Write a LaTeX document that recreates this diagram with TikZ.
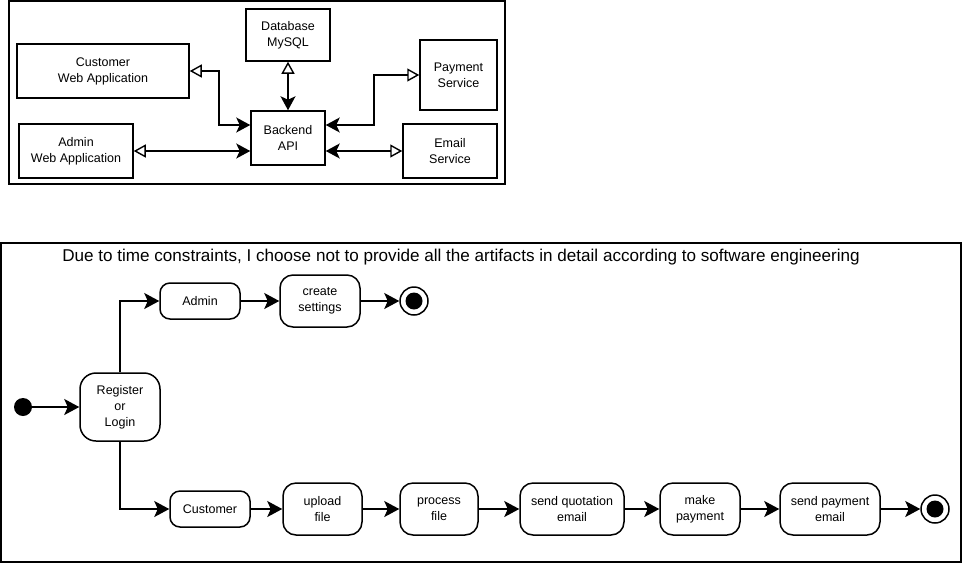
\documentclass[tikz,border=0pt]{standalone}
\usepackage{fontspec}
\setmainfont{Liberation Sans}
\usetikzlibrary{arrows.meta}
\begin{document}
\begin{tikzpicture}[x=1pt,y=-1pt,
  every node/.style={font=\fontsize{12.5}{16}\selectfont, align=center, inner sep=0pt},
  comp/.style={draw, line width=1.5pt, fill=white},
  act/.style={draw, line width=1.5pt, rounded corners=13pt, fill=white},
  actsm/.style={draw, line width=1.5pt, rounded corners=10pt, fill=white},
  frame/.style={draw, line width=2pt},
  link/.style={line width=1.6pt, {Triangle[open,length=12pt,width=13pt,line width=1.4pt]}-{Stealth[length=14pt,width=15pt,inset=3.5pt]}},
  flow/.style={line width=1.6pt, -{Stealth[length=15pt,width=16pt,inset=3.5pt]}},
  startdot/.style={circle, fill=black, minimum size=18pt},
  enddot/.style={circle, draw, line width=1.5pt, minimum size=28pt, fill=white,
    path picture={\fill[black] (path picture bounding box.center) circle (8.5pt);}}
]
\useasboundingbox (0,0) rectangle (963,566);
\fill[white] (0,0) rectangle (963,566);
% top frame
\draw[frame] (9,1) rectangle (505,184);
\node[comp, minimum width=172pt, minimum height=54pt] (cust) at (103,71) {Customer\\Web Application};
\node[comp, minimum width=114pt, minimum height=54pt] (adm) at (76,151) {Admin\\Web Application};
\node[comp, minimum width=84pt, minimum height=52pt] (db) at (288,35) {Database\\MySQL};
\node[comp, minimum width=74pt, minimum height=54pt] (api) at (288,138) {Backend\\API};
\node[comp, minimum width=77pt, minimum height=70pt] (pay) at (458.5,75) {Payment\\Service};
\node[comp, minimum width=94pt, minimum height=54pt] (email) at (450,151) {Email\\Service};
\draw[link] (cust.east) -| ([xshift=-31pt,yshift=13pt]api.west) -- ([yshift=13pt]api.west);
\draw[link] (adm.east) -- (adm.east -| api.west);
\draw[link] (db.south) -- (api.north);
\draw[link] (pay.west) -| ([xshift=48pt,yshift=13pt]api.east) -- ([yshift=13pt]api.east);
\draw[link] (email.west) -- (email.west -| api.east);
% bottom frame
\draw[frame] (1,243) rectangle (961,562);
\node[font=\fontsize{17.1}{19}\selectfont] (title) at (461,257) {Due to time constraints, I choose not to provide all the artifacts in detail according to software engineering};
\node[startdot] (start) at (23,407) {};
\node[act, rounded corners=16pt, minimum width=80pt, minimum height=68pt] (reg) at (120,407) {Register\\or\\Login};
\node[actsm, minimum width=80pt, minimum height=36pt] (admin) at (200,301) {Admin};
\node[act, minimum width=80pt, minimum height=52pt] (create) at (320,301) {create\\settings};
\node[enddot] (end1) at (414,301) {};
\node[actsm, minimum width=80pt, minimum height=36pt] (custa) at (210,509) {Customer};
\node[act, minimum width=79pt, minimum height=52pt] (upload) at (322.5,509) {upload\\file};
\node[act, minimum width=78pt, minimum height=52pt] (process) at (439,509) {process\\file};
\node[act, minimum width=104pt, minimum height=52pt] (sendq) at (572,509) {send quotation\\email};
\node[act, minimum width=80pt, minimum height=52pt] (make) at (700,509) {make\\payment};
\node[act, minimum width=100pt, minimum height=52pt] (sendp) at (830,509) {send payment\\email};
\node[enddot] (end2) at (935,509) {};
\draw[flow] (start) -- (reg);
\draw[flow] (reg.north) |- (admin.west);
\draw[flow] (reg.south) |- (custa.west);
\draw[flow] (admin) -- (create);
\draw[flow] (create) -- (end1);
\draw[flow] (custa) -- (upload);
\draw[flow] (upload) -- (process);
\draw[flow] (process) -- (sendq);
\draw[flow] (sendq) -- (make);
\draw[flow] (make) -- (sendp);
\draw[flow] (sendp) -- (end2);
\end{tikzpicture}
\end{document}
